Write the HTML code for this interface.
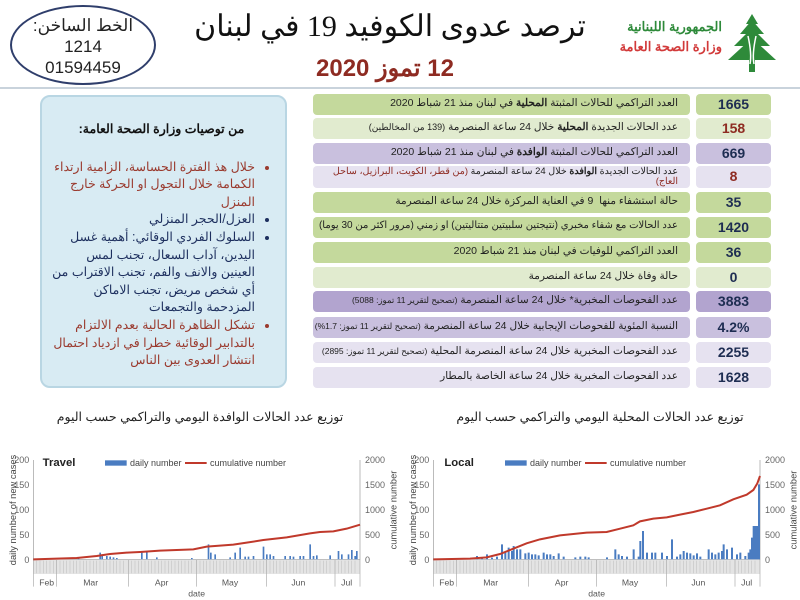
<!DOCTYPE html>
<html><head><meta charset="utf-8">
<style>
*{margin:0;padding:0;box-sizing:border-box}
body{width:800px;height:600px;background:#fff;position:relative;overflow:hidden;font-family:"Liberation Sans","Noto Sans CJK SC",sans-serif}
.abs{position:absolute}
.oval{left:10px;top:5px;width:146px;height:80px;border:2px solid #2f3e6b;border-radius:50%;text-align:center;color:#222;font-size:17px;line-height:21px;padding-top:8px;direction:rtl}
.title{left:190px;top:9px;width:400px;text-align:center;font-family:"Liberation Serif","Noto Serif CJK SC",serif;font-size:30px;color:#111;white-space:nowrap;direction:rtl}
.date{left:290px;top:54px;width:190px;text-align:center;font-size:24px;font-weight:bold;color:#8e2b22;direction:rtl;white-space:nowrap}
.hr{left:0;top:87px;width:800px;height:2px;background:#c9d3dc}
.box{left:40px;top:95px;width:247px;height:293px;background:#d8ebf3;border:2px solid #b9d6e3;border-radius:10px;direction:rtl;font-size:12.5px;line-height:17.6px;padding:24px 14px 0 10px}
.box h4{text-align:center;font-size:12.5px;margin-bottom:20px;color:#111}
.box ul{padding-right:16px}
.red{color:#9a3a2e}.blue{color:#1d2f5e}
.lab{left:313px;width:377px;height:21px;border-radius:4px;direction:rtl;font-size:10.5px;padding:3px 12px 0 4px;color:#222;white-space:nowrap;overflow:hidden}
.val{left:696px;width:75px;height:21px;border-radius:4px;text-align:center;font-size:14px;font-weight:bold;color:#1e2d52;line-height:21px}
.g1{background:#c4d99c}.g2{background:#e1ebcf}.p1{background:#c9c0de}.p2{background:#e6e2f0}.p0{background:#b2a4cf}
.ct{font-size:12.5px;color:#222;text-align:center;direction:rtl;width:400px}
</style></head><body>
<div class="abs oval">الخط الساخن:<br>1214<br>01594459</div>
<div class="abs title">ترصد عدوى الكوفيد 19 في لبنان</div>
<div class="abs date">12 تموز 2020</div>
<div class="abs" style="left:590px;top:17px;width:132px;text-align:right;direction:rtl;font-size:13px;font-weight:bold;line-height:20px"><span style="color:#2e8a3a">الجمهورية اللبنانية</span><br><span style="color:#d23a3a">وزارة الصحة العامة</span></div>
<svg class="abs" style="left:728px;top:14px" width="48" height="58" viewBox="0 0 48 58"><g fill="#2e8a3a"><polygon points="24,0 30,10 18,10"/><polygon points="24,6 36,20 12,20"/><polygon points="24,14 42,32 6,32"/><polygon points="24,24 48,46 0,46"/><rect x="21" y="44" width="6" height="14"/></g><path d="M20 22 Q24 40 22 50 M28 22 Q24 40 26 50" stroke="#fff" stroke-width="1.5" fill="none"/></svg>
<div class="abs hr"></div>

<div class="abs box">
<h4>من توصيات وزارة الصحة العامة:</h4>
<ul>
<li class="red">خلال هذ الفترة الحساسة، الزامية ارتداء الكمامة خلال التجول او الحركة خارج المنزل</li>
<li class="blue">العزل/الحجر المنزلي</li>
<li class="blue">السلوك الفردي الوقائي: أهمية غسل اليدين، آداب السعال، تجنب لمس العينين والانف والفم، تجنب الاقتراب من أي شخص مريض، تجنب الاماكن المزدحمة والتجمعات</li>
<li class="red">تشكل الظاهرة الحالية بعدم الالتزام بالتدابير الوقائية خطرا في ازدياد احتمال انتشار العدوى بين الناس</li>
</ul></div>

<div class="abs lab g1" style="top:94px">العدد التراكمي للحالات المثبتة <b>المحلية</b> في لبنان منذ 21 شباط 2020</div><div class="abs val g1" style="top:94px">1665</div>
<div class="abs lab g2" style="top:118px">عدد الحالات الجديدة <b>المحلية</b> خلال 24 ساعة المنصرمة <span style="font-size:9px">(139 من المخالطين)</span></div><div class="abs val g2" style="top:118px;color:#8e2b22">158</div>
<div class="abs lab p1" style="top:143px">العدد التراكمي للحالات المثبتة <b>الوافدة</b> في لبنان منذ 21 شباط 2020</div><div class="abs val p1" style="top:143px">669</div>
<div class="abs lab p2" style="top:166px;height:22px;font-size:9.5px;line-height:10px;padding-top:1px;white-space:normal">عدد الحالات الجديدة <b>الوافدة</b> خلال 24 ساعة المنصرمة <span style="color:#8e2b22">(من قطر، الكويت، البرازيل، ساحل العاج)</span></div><div class="abs val p2" style="top:166px;height:22px;color:#8e2b22">8</div>
<div class="abs lab g1" style="top:192px">حالة استشفاء منها &nbsp;9 في العناية المركزة خلال 24 ساعة المنصرمة</div><div class="abs val g1" style="top:192px">35</div>
<div class="abs lab g1" style="top:217px;font-size:10px">عدد الحالات مع شفاء مخبري (نتيجتين سلبيتين متتاليتين) او زمني (مرور اكثر من 30 يوما)</div><div class="abs val g1" style="top:217px">1420</div>
<div class="abs lab g1" style="top:242px">العدد التراكمي للوفيات في لبنان منذ 21 شباط 2020</div><div class="abs val g1" style="top:242px">36</div>
<div class="abs lab g2" style="top:267px">حالة وفاة خلال 24 ساعة المنصرمة</div><div class="abs val g2" style="top:267px">0</div>
<div class="abs lab p0" style="top:291px">عدد الفحوصات المخبرية* خلال 24 ساعة المنصرمة <span style="font-size:8.5px">(تصحيح لتقرير 11 تموز: 5088)</span></div><div class="abs val p0" style="top:291px">3883</div>
<div class="abs lab p1" style="top:317px">النسبة المئوية للفحوصات الإيجابية خلال 24 ساعة المنصرمة <span style="font-size:8.5px">(تصحيح لتقرير 11 تموز: 1.7%)</span></div><div class="abs val p1" style="top:317px">4.2%</div>
<div class="abs lab p2" style="top:342px">عدد الفحوصات المخبرية خلال 24 ساعة المنصرمة المحلية <span style="font-size:8.5px">(تصحيح لتقرير 11 تموز: 2895)</span></div><div class="abs val p2" style="top:342px">2255</div>
<div class="abs lab p2" style="top:367px">عدد الفحوصات المخبرية خلال 24 ساعة الخاصة بالمطار</div><div class="abs val p2" style="top:367px">1628</div>

<div class="abs ct" style="left:0;top:409px">توزيع عدد الحالات الوافدة اليومي والتراكمي حسب اليوم</div>
<div class="abs ct" style="left:400px;top:409px">توزيع عدد الحالات المحلية اليومي والتراكمي حسب اليوم</div>

<svg class="abs" style="left:0;top:400px" width="400" height="200" viewBox="0 0 1200 600" font-family="Liberation Sans, sans-serif">
<g font-size="27" fill="#666" text-anchor="end"><text x="88" y="189">200</text><text x="88" y="264">150</text><text x="88" y="339">100</text><text x="88" y="414">50</text><text x="88" y="489">0</text></g>
<g font-size="27" fill="#666"><text x="1095" y="189">2000</text><text x="1095" y="264">1500</text><text x="1095" y="339">1000</text><text x="1095" y="414">500</text><text x="1095" y="489">0</text></g>
<text transform="translate(48,330) rotate(-90)" text-anchor="middle" font-size="28" fill="#444">daily number of new cases</text>
<text transform="translate(1190,330) rotate(-90)" text-anchor="middle" font-size="28" fill="#444">cumulative number</text>
<line x1="100" y1="180" x2="100" y2="480" stroke="#999" stroke-width="2"/><line x1="1080" y1="180" x2="1080" y2="480" stroke="#999" stroke-width="2"/>
<line x1="100" y1="478" x2="1080" y2="478" stroke="#999" stroke-width="2"/>
<text x="128" y="198" font-size="34" font-weight="bold" fill="#222">Travel</text>
<rect x="315" y="181" width="65" height="16" fill="#4a7cc1"/><text x="390" y="198" font-size="27" fill="#444">daily number</text>
<line x1="555" y1="189" x2="620" y2="189" stroke="#c0392b" stroke-width="6"/><text x="630" y="198" font-size="27" fill="#444">cumulative number</text>
<rect x="100" y="480" width="980" height="42" fill="#e4e4e4"/>
<g stroke="#aaa" stroke-width="2"><path d="M100 480V560M170 480V560M385 480V560M590 480V560M800 480V560M1005 480V560M1080 480V560"/></g>
<g stroke="#bbb" stroke-width="1.5" id="tk"><path d="M110 482V520M120 482V520M130 482V520M140 482V520M150 482V520M160 482V520M180 482V520M190 482V520M200 482V520M210 482V520M220 482V520M230 482V520M240 482V520M250 482V520M260 482V520M270 482V520M280 482V520M290 482V520M300 482V520M310 482V520M320 482V520M330 482V520M340 482V520M350 482V520M360 482V520M370 482V520M395 482V520M405 482V520M415 482V520M425 482V520M435 482V520M445 482V520M455 482V520M465 482V520M475 482V520M485 482V520M495 482V520M505 482V520M515 482V520M525 482V520M535 482V520M545 482V520M555 482V520M565 482V520M575 482V520M600 482V520M610 482V520M620 482V520M630 482V520M640 482V520M650 482V520M660 482V520M670 482V520M680 482V520M690 482V520M700 482V520M710 482V520M720 482V520M730 482V520M740 482V520M750 482V520M760 482V520M770 482V520M780 482V520M790 482V520M810 482V520M820 482V520M830 482V520M840 482V520M850 482V520M860 482V520M870 482V520M880 482V520M890 482V520M900 482V520M910 482V520M920 482V520M930 482V520M940 482V520M950 482V520M960 482V520M970 482V520M980 482V520M990 482V520M1015 482V520M1025 482V520M1035 482V520M1045 482V520M1055 482V520M1065 482V520"/></g>
<g font-size="26" fill="#555" text-anchor="middle"><text x="140" y="557">Feb</text><text x="272" y="557">Mar</text><text x="485" y="557">Apr</text><text x="690" y="557">May</text><text x="895" y="557">Jun</text><text x="1040" y="557">Jul</text><text x="590" y="590">date</text></g>
<g fill="#4a7cc1"><path d="M233 478v-5h5v5zM298 478v-20h5v20zM304 478v-15h5v15zM318 478v-10h5v10zM328 478v-8h5v8zM338 478v-6h5v6zM348 478v-4h5v4zM423 478v-22h5v22zM438 478v-22h5v22zM468 478v-6h5v6zM573 478v-4h5v4zM623 478v-45h5v45zM630 478v-20h5v20zM643 478v-15h5v15zM688 478v-6h5v6zM703 478v-20h5v20zM718 478v-35h5v35zM733 478v-8h5v8zM743 478v-8h5v8zM758 478v-10h5v10zM788 478v-38h5v38zM798 478v-15h5v15zM808 478v-15h5v15zM818 478v-10h5v10zM853 478v-10h5v10zM868 478v-10h5v10zM878 478v-8h5v8zM898 478v-10h5v10zM908 478v-10h5v10zM928 478v-45h5v45zM938 478v-10h5v10zM948 478v-12h5v12zM988 478v-12h5v12zM1013 478v-25h5v25zM1023 478v-15h5v15zM1043 478v-15h5v15zM1053 478v-28h5v28zM1063 478v-10h5v10zM1068 478v-25h5v25z"/></g>
<polyline fill="none" stroke="#c0392b" stroke-width="6" points="100,478 170,476 230,474 290,468 330,462 380,458 420,456 480,452 580,448 620,440 700,434 740,428 790,420 860,412 930,400 960,396 1000,394 1040,386 1080,374"/>
</svg>

<svg class="abs" style="left:400px;top:400px" width="400" height="200" viewBox="0 0 1200 600" font-family="Liberation Sans, sans-serif">
<g font-size="27" fill="#666" text-anchor="end"><text x="88" y="189">200</text><text x="88" y="264">150</text><text x="88" y="339">100</text><text x="88" y="414">50</text><text x="88" y="489">0</text></g>
<g font-size="27" fill="#666"><text x="1095" y="189">2000</text><text x="1095" y="264">1500</text><text x="1095" y="339">1000</text><text x="1095" y="414">500</text><text x="1095" y="489">0</text></g>
<text transform="translate(48,330) rotate(-90)" text-anchor="middle" font-size="28" fill="#444">daily number of new cases</text>
<text transform="translate(1190,330) rotate(-90)" text-anchor="middle" font-size="28" fill="#444">cumulative number</text>
<line x1="100" y1="180" x2="100" y2="480" stroke="#999" stroke-width="2"/><line x1="1080" y1="180" x2="1080" y2="480" stroke="#999" stroke-width="2"/>
<line x1="100" y1="478" x2="1080" y2="478" stroke="#999" stroke-width="2"/>
<text x="133" y="198" font-size="34" font-weight="bold" fill="#222">Local</text>
<rect x="315" y="181" width="65" height="16" fill="#4a7cc1"/><text x="390" y="198" font-size="27" fill="#444">daily number</text>
<line x1="555" y1="189" x2="620" y2="189" stroke="#c0392b" stroke-width="6"/><text x="630" y="198" font-size="27" fill="#444">cumulative number</text>
<rect x="100" y="480" width="980" height="42" fill="#e4e4e4"/>
<g stroke="#aaa" stroke-width="2"><path d="M100 480V560M170 480V560M385 480V560M590 480V560M800 480V560M1005 480V560M1080 480V560"/></g>
<use href="#tk"/>
<g font-size="26" fill="#555" text-anchor="middle"><text x="140" y="557">Feb</text><text x="272" y="557">Mar</text><text x="485" y="557">Apr</text><text x="690" y="557">May</text><text x="895" y="557">Jun</text><text x="1040" y="557">Jul</text><text x="590" y="590">date</text></g>
<g fill="#4a7cc1"><path d="M228 478v-10h6v10zM243 478v-6h6v6zM258 478v-15h6v15zM273 478v-5h6v5zM288 478v-8h6v8zM303 478v-45h6v45zM313 478v-20h6v20zM323 478v-35h6v35zM333 478v-25h6v25zM338 478v-40h6v40zM348 478v-30h6v30zM358 478v-30h6v30zM373 478v-18h6v18zM383 478v-20h6v20zM393 478v-15h6v15zM403 478v-15h6v15zM413 478v-12h6v12zM428 478v-20h6v20zM438 478v-15h6v15zM448 478v-15h6v15zM458 478v-10h6v10zM473 478v-18h6v18zM488 478v-8h6v8zM523 478v-6h6v6zM538 478v-8h6v8zM553 478v-8h6v8zM563 478v-6h6v6zM618 478v-6h6v6zM643 478v-30h6v30zM653 478v-15h6v15zM663 478v-10h6v10zM678 478v-8h6v8zM698 478v-30h6v30zM713 478v-8h6v8zM718 478v-55h6v55zM726 478v-85h6v85zM738 478v-20h6v20zM753 478v-20h6v20zM763 478v-20h6v20zM783 478v-20h6v20zM798 478v-10h6v10zM813 478v-60h6v60zM828 478v-8h6v8zM838 478v-15h6v15zM848 478v-25h6v25zM858 478v-20h6v20zM868 478v-18h6v18zM878 478v-12h6v12zM888 478v-18h6v18zM898 478v-8h6v8zM923 478v-30h6v30zM933 478v-20h6v20zM943 478v-15h6v15zM953 478v-20h6v20zM963 478v-25h6v25zM968 478v-45h6v45zM978 478v-30h6v30zM993 478v-35h6v35zM1008 478v-15h6v15zM1018 478v-20h6v20zM1033 478v-10h6v10zM1043 478v-20h6v20zM1048 478v-30h6v30zM1053 478v-65h6v65zM1058 478v-100h6v100zM1064 478v-100h6v100zM1070 478v-100h6v100zM1074 478v-225h6v225z"/></g>
<polyline fill="none" stroke="#c0392b" stroke-width="6" points="100,478 210,476 260,472 300,462 340,446 380,430 420,418 480,406 520,402 560,398 620,396 660,386 700,376 720,364 760,356 800,352 840,344 880,336 920,326 960,316 1000,298 1040,284 1060,270 1072,250 1080,228"/>
</svg>
</body></html>
